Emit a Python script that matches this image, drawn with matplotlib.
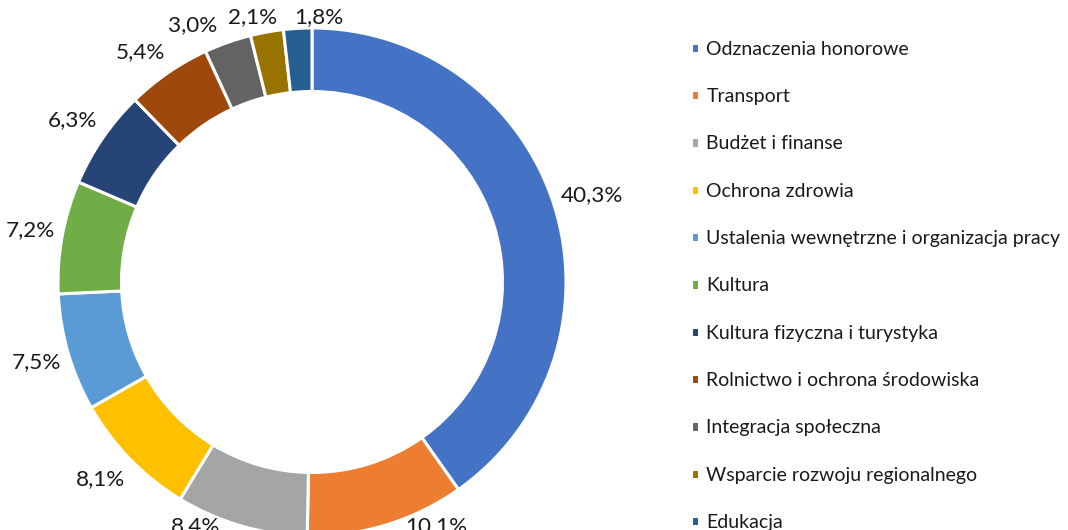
import numpy as np
import matplotlib
matplotlib.use("Agg")
import matplotlib.pyplot as plt

# dane z wykresu (udzial procentowy)
categories = [
    "Odznaczenia honorowe",
    "Transport",
    "Budżet i finanse",
    "Ochrona zdrowia",
    "Ustalenia wewnętrzne i organizacja pracy",
    "Kultura",
    "Kultura fizyczna i turystyka",
    "Rolnictwo i ochrona środowiska",
    "Integracja społeczna",
    "Wsparcie rozwoju regionalnego",
    "Edukacja",
]
values = [40.3, 10.1, 8.4, 8.1, 7.5, 7.2, 6.3, 5.4, 3.0, 2.1, 1.8]
colors = ["#4472C4", "#ED7D31", "#A5A5A5", "#FFC000", "#5B9BD5", "#70AD47",
          "#264478", "#9E480E", "#636363", "#997300", "#255E91"]

plt.rcParams["font.family"] = ["Lato", "DejaVu Sans"]

W, H = 1068, 530
fig = plt.figure(figsize=(W / 100, H / 100), dpi=100)

# os w pikselach: srodek (312, 282), promien 254 px
cx, cy, R = 312, 282, 254
lim = 1.4
side = 2 * lim * R
ax = fig.add_axes([(cx - side / 2) / W, (H - cy - side / 2) / H, side / W, side / H])

wedges, _ = ax.pie(values, colors=colors, startangle=90, counterclock=False,
                   radius=1.0, wedgeprops=dict(width=0.25, edgecolor="white", linewidth=2.2))
# pie ustawia wlasne granice - nadpisujemy
ax.set_xlim(-lim, lim)
ax.set_ylim(-lim, lim)
ax.set_aspect("equal")
ax.axis("off")

# etykiety procentowe na zewnatrz pierscienia
total = sum(values)
start = 90.0
labels = []
for v in values:
    mid = np.deg2rad(start - v / total * 360 / 2)
    start -= v / total * 360
    t = ax.text(0, 0, f"{v:.1f}%".replace(".", ","), ha="center", va="center",
                fontsize=16.2, color="#1a1a1a")
    labels.append((t, mid))

fig.canvas.draw()
rend = fig.canvas.get_renderer()
area_bottom = -3  # dolna krawedz obszaru wykresu (px), troche ponizej obrazka
boxes = []
for t, mid in labels:
    bb = t.get_window_extent(rend)
    w, h = bb.width, bb.height * 0.72
    c, s = np.cos(mid), np.sin(mid)
    corner = ax.transData.transform((1.04 * c, 1.04 * s))
    sx = 1 if c > -0.1 else -1
    dy = 13 * abs(np.sin(2 * mid)) * np.sign(s)
    x, y = corner[0] + sx * 0.9 * w / 2, corner[1] + dy
    # etykieta nie wychodzi pod obszar wykresu: podnies ja i odsun na bok
    lift = area_bottom + h / 2 - y
    if lift > 0:
        y += lift
        x += sx * 1.2 * lift
    boxes.append([x, y, w, h])

# rozsuwanie nachodzacych etykiet w poziomie
gap = 10
for _ in range(20):
    moved = False
    for i in range(len(boxes)):
        for j in range(i + 1, len(boxes)):
            a, b = boxes[i], boxes[j]
            if abs(a[1] - b[1]) < (a[3] + b[3]) / 2:
                need = (a[2] + b[2]) / 2 + gap - abs(a[0] - b[0])
                if need > 0:
                    d = 1 if b[0] >= a[0] else -1
                    a[0] -= d * need / 2
                    b[0] += d * need / 2
                    moved = True
    if not moved:
        break

for (t, mid), b in zip(labels, boxes):
    t.set_position(ax.transData.inverted().transform((b[0], b[1])))

leg = fig.legend(wedges, categories, loc="upper left",
                 bbox_to_anchor=(681 / W, 1 - 31 / H), frameon=False,
                 fontsize=14.0, handlelength=0.45, handleheight=0.45,
                 handletextpad=0.35, labelspacing=1.56, borderpad=0)
for t in leg.get_texts():
    t.set_color("#1a1a1a")

fig.savefig("out.png", dpi=100)
